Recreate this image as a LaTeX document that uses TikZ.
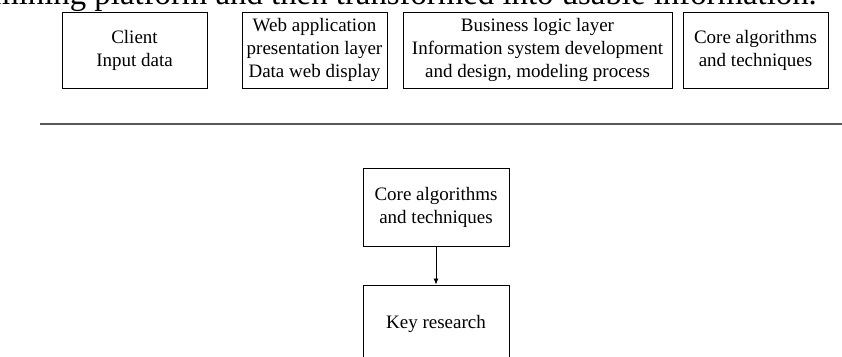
\documentclass[tikz,border=0pt]{standalone}
\usepackage{fontspec}
\setmainfont{Liberation Serif}
\usetikzlibrary{arrows.meta}
\tikzset{
  box/.style={draw=black, line width=0.9pt, fill=white, align=center,
    inner sep=0pt, font=\fontsize{19}{23}\selectfont},
  link/.style={draw=black, line width=0.8pt, -{Latex[length=6pt,width=5pt]}},
  rule/.style={draw=black!65, line width=1.6pt}
}
\begin{document}
\begin{tikzpicture}[x=1pt,y=-1pt]
  \useasboundingbox (0,0) rectangle (842,356);
  \clip (0,0) rectangle (842,356);
  % tail of the preceding sentence, cut by the page edge
  \node[anchor=base east, inner sep=0pt, font=\fontsize{32.8}{38}\selectfont]
    (caption) at (817,4.5) {mining platform and then transformed into usable information.};
  % top row of layers
  \node[box, minimum width=145pt, minimum height=76pt] (client) at (134.5,50)
    {Client\\Input data};
  \node[box, minimum width=145pt, minimum height=76pt] (web) at (314.5,50)
    {Web application\\presentation layer\\Data web display};
  \node[box, minimum width=269pt, minimum height=76pt] (logic) at (537.5,50)
    {Business logic layer\\Information system development\\and design, modeling process};
  \node[box, minimum width=145pt, minimum height=76pt] (core) at (755.5,50)
    {Core algorithms\\and techniques};
  % separator
  \coordinate (ruleL) at (40,124);
  \coordinate (ruleR) at (842,124);
  \draw[rule] (ruleL) -- (ruleR);
  % lower chain
  \node[box, minimum width=146pt, minimum height=78pt] (core2) at (436,207)
    {Core algorithms\\and techniques};
  \node[box, minimum width=146pt, minimum height=78pt] (key) at (436,324)
    {Key research};
  \draw[link] (core2) -- (key);
\end{tikzpicture}
\end{document}
